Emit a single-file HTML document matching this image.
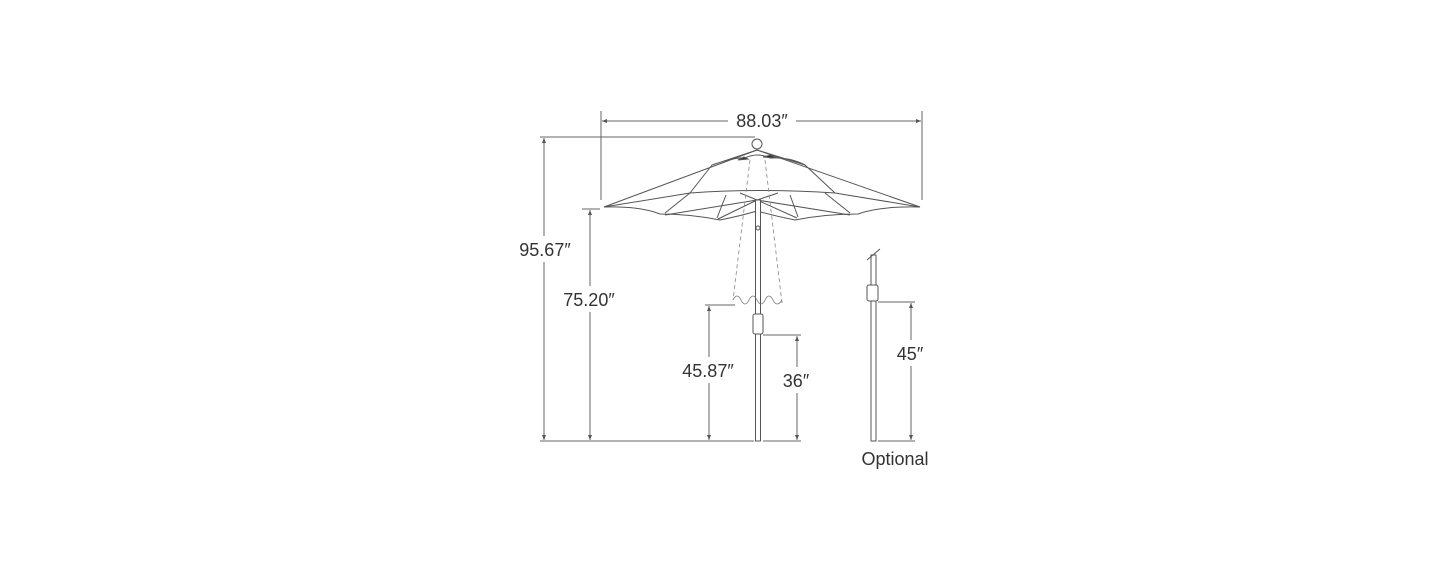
<!DOCTYPE html>
<html><head><meta charset="utf-8"><style>
html,body{margin:0;padding:0;background:#fff;}
svg{display:block;}
text{font-family:"Liberation Sans",sans-serif;fill:#333;}
</style></head><body>
<svg width="1445" height="569" viewBox="0 0 1445 569" xmlns="http://www.w3.org/2000/svg">
<defs>
<marker id="a" viewBox="0 0 10 10" refX="10" refY="5" markerWidth="5" markerHeight="5" orient="auto-start-reverse"><path d="M0,1 L10,5 L0,9 z" fill="#555"/></marker>
</defs>
<g stroke="#666" stroke-width="1" fill="none">
<line x1="601" y1="111" x2="601" y2="200"/>
<line x1="922" y1="111" x2="922" y2="200"/>
<line x1="602" y1="121" x2="728" y2="121" marker-start="url(#a)"/>
<line x1="796" y1="121" x2="921" y2="121" marker-end="url(#a)"/>
<line x1="540" y1="137" x2="755" y2="137"/>
<line x1="544" y1="138" x2="544" y2="236" marker-start="url(#a)"/>
<line x1="544" y1="262" x2="544" y2="440" marker-end="url(#a)"/>
<line x1="582" y1="209" x2="600" y2="209"/>
<line x1="590" y1="210" x2="590" y2="286" marker-start="url(#a)"/>
<line x1="590" y1="312" x2="590" y2="440" marker-end="url(#a)"/>
<line x1="540" y1="441" x2="754" y2="441"/>
<line x1="763" y1="441" x2="801" y2="441"/>
<line x1="705" y1="305" x2="735" y2="305"/>
<line x1="709" y1="306" x2="709" y2="357" marker-start="url(#a)"/>
<line x1="709" y1="383" x2="709" y2="440" marker-end="url(#a)"/>
<line x1="763" y1="335" x2="801" y2="335"/>
<line x1="797" y1="336" x2="797" y2="367" marker-start="url(#a)"/>
<line x1="797" y1="393" x2="797" y2="440" marker-end="url(#a)"/>
<line x1="878" y1="302" x2="915" y2="302"/>
<line x1="878" y1="441" x2="915" y2="441"/>
<line x1="911" y1="303" x2="911" y2="340" marker-start="url(#a)"/>
<line x1="911" y1="366" x2="911" y2="440" marker-end="url(#a)"/>
</g>
<g stroke="#555" stroke-width="1" fill="#fff">
<path d="M757,150 L604,207 Q640,206 660,214 Q690,214 720,220 Q740,216 757,211 Q775,216 795,220 Q825,214 858,214 Q880,206 920,207 Z"/>
<path d="M604,207 L690,193 Q757,188 835,193 L920,207" fill="none"/>
<path d="M757,150 L712,165 L690,193 M757,150 L805,165 L835,193 M712,165 Q735,157 745,158 Q757,152 770,158 Q790,157 805,165" fill="none"/>
<path d="M738,160 l6,-3 l4,2 z M763,157 l8,-2 l5,3 z" fill="#333"/>
<path d="M757,200 L665,215 M757,200 L718,219 M757,200 L740,193 M757,200 L778,193 M757,200 L797,218 M757,200 L850,215" fill="none"/>
<path d="M690,193 L665,213 M726,195 L717,218 M790,195 L798,217 M825,193 L850,213" fill="none"/>
<circle cx="757" cy="144" r="5"/>
<rect x="755.5" y="200" width="5" height="241"/>
<rect x="753" y="314" width="10" height="20" rx="2"/>
<circle cx="758" cy="228" r="2"/>
<rect x="871" y="255" width="5" height="186"/>
<rect x="867" y="285" width="11" height="16" rx="2"/>
<line x1="867" y1="260" x2="880" y2="249"/>
</g>
<g stroke="#888" stroke-width="0.8" fill="none" stroke-dasharray="4,3">
<line x1="750" y1="160" x2="733" y2="300"/>
<line x1="765" y1="160" x2="782" y2="303"/>
</g>
<path d="M733,300 q4,-8 8,0 q4,8 8,0 q4,-8 8,0 q4,8 8,0 q4,-8 8,0 q4,8 9,0" stroke="#777" stroke-width="0.8" fill="none"/>
<g font-size="18">
<text x="762" y="127" text-anchor="middle">88.03″</text>
<text x="545" y="256" text-anchor="middle">95.67″</text>
<text x="589" y="306" text-anchor="middle">75.20″</text>
<text x="708" y="377" text-anchor="middle">45.87″</text>
<text x="796" y="387" text-anchor="middle">36″</text>
<text x="910" y="360" text-anchor="middle">45″</text>
<text x="895" y="465" text-anchor="middle">Optional</text>
</g>
</svg>
</body></html>
